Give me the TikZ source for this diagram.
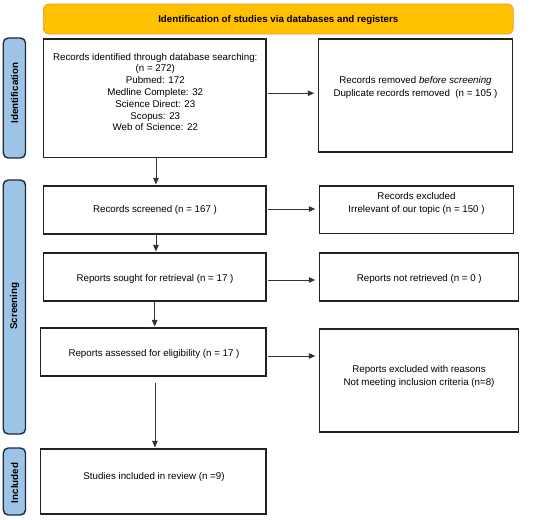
\documentclass[tikz,border=0pt]{standalone}
\usepackage{fontspec}
\setmainfont{Liberation Sans}
\usetikzlibrary{arrows.meta}
\definecolor{bannerfill}{HTML}{FFC000}
\definecolor{bannerdraw}{HTML}{E0A030}
\definecolor{labfill}{HTML}{9DC3E6}
\definecolor{labdraw}{HTML}{1C2A3A}
\definecolor{boxdraw}{HTML}{222222}
\definecolor{arrcol}{HTML}{333333}
\tikzset{
  box/.style={draw=boxdraw, line width=1.1pt, inner sep=0pt},
  banner/.style={draw=bannerdraw, fill=bannerfill, line width=0.8pt, rounded corners=6pt, inner sep=0pt},
  lab/.style={draw=labdraw, fill=labfill, line width=1.4pt, rounded corners=5pt, inner sep=0pt},
  txt/.style={inner sep=0pt, align=center, font=\fontsize{9.75}{11.8}\selectfont},
  txtb/.style={inner sep=0pt, align=center, font=\fontsize{9.75}{13}\selectfont},
  labtxt/.style={inner sep=0pt, font=\fontsize{9.8}{12}\selectfont\bfseries, rotate=90},
  arr/.style={draw=arrcol, line width=0.9pt, -{Triangle[length=6.5pt,width=5.5pt]}}
}
\begin{document}
\begin{tikzpicture}[x=1pt,y=-1pt]
\useasboundingbox (0,0) rectangle (550,520);
% banner
\node[banner, minimum width=470pt, minimum height=30pt] (ban) at (278.3,19) {};
\node[inner sep=0pt, font=\fontsize{9.75}{12}\selectfont\bfseries] (bant) at (278.3,20) {Identification of studies via databases and registers};
% side labels
\node[lab, minimum width=22.2pt, minimum height=120pt] (lid) at (14.4,98) {};
\node[labtxt] (lidt) at (14.6,93) {Identification};
\node[lab, minimum width=22.2pt, minimum height=254pt] (lsc) at (14.4,307) {};
\node[labtxt] (lsct) at (14.6,306) {Screening};
\node[lab, minimum width=22.2pt, minimum height=67pt] (lin) at (14.4,481.5) {};
\node[labtxt] (lint) at (14.6,483) {Included};
% left boxes
\node[box, minimum width=222.7pt, minimum height=118.5pt] (b1) at (154.65,98.25) {};
\node[txt] (b1t) at (155.3,92) {Records identified through database searching:\\(n = 272)\\Pubmed: 172\\Medline Complete: 32\\Science Direct: 23\\Scopus: 23\\Web of Science: 22};
\node[box, minimum width=222.7pt, minimum height=48pt] (b2) at (154.65,210) {};
\node[txt] (b2t) at (155,209.5) {Records screened (n = 167 )};
\node[box, minimum width=222.7pt, minimum height=48pt] (b3) at (154.65,277) {};
\node[txt] (b3t) at (155,279) {Reports sought for retrieval (n = 17 )};
\node[box, minimum width=225.3pt, minimum height=48pt] (b4) at (153.35,352) {};
\node[txt] (b4t) at (154,354) {Reports assessed for eligibility (n = 17 )};
\node[box, minimum width=225.3pt, minimum height=65pt] (b5) at (153.35,481.5) {};
\node[txt] (b5t) at (154,477) {Studies included in review (n =9)};
% right boxes
\node[box, minimum width=194pt, minimum height=113pt] (r1) at (415.3,95.5) {};
\node[txtb] (r1t) at (415.5,87) {Records removed \textit{before screening}\\Duplicate records removed~ (n = 105 )};
\node[box, minimum width=194pt, minimum height=47.5pt] (r2) at (416.3,209.75) {};
\node[txtb] (r2t) at (416.5,203) {Records excluded\\Irrelevant of our topic (n = 150 )};
\node[box, minimum width=199pt, minimum height=48pt] (r3) at (418.8,277) {};
\node[txt] (r3t) at (419.3,279) {Reports not retrieved (n = 0 )};
\node[box, minimum width=199pt, minimum height=103pt] (r4) at (418.8,380.5) {};
\node[txtb] (r4t) at (419,376) {Reports excluded with reasons\\Not meeting inclusion criteria (n=8)};
% horizontal arrows
\draw[arr, shorten <=1.5pt, shorten >=3.5pt] ([yshift=5pt]b1.east) -- ([yshift=5pt]b1.east -| r1.west);
\draw[arr, shorten <=1.5pt, shorten >=3.5pt] ([yshift=1pt]b2.east) -- ([yshift=1pt]b2.east -| r2.west);
\draw[arr, shorten <=1.5pt, shorten >=3.5pt] ([yshift=-3pt]b3.east) -- ([yshift=-3pt]b3.east -| r3.west);
\draw[arr, shorten <=1.5pt, shorten >=3.5pt] ([yshift=-4pt]b4.east) -- ([yshift=-4pt]b4.east -| r4.west);
% vertical arrows
\draw[arr, shorten >=1pt] ([xshift=1.3pt]b1.south) -- ([xshift=1.3pt]b1.south |- b2.north);
\draw[arr, shorten >=1pt] ([xshift=1.3pt]b2.south) -- ([xshift=1.3pt]b2.south |- b3.north);
\draw[arr, shorten >=1pt] (b3.south) -- (b3.south |- b4.north);
\draw[arr, shorten <=6pt, shorten >=1pt] ([xshift=1.6pt]b4.south) -- ([xshift=1.6pt]b4.south |- b5.north);
\end{tikzpicture}
\end{document}
